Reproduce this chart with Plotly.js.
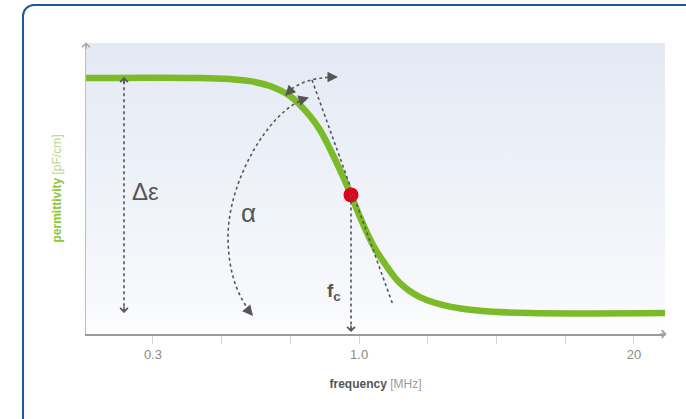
<!DOCTYPE html>
<html>
<head>
<meta charset="utf-8">
<script src="https://cdn.plot.ly/plotly-3.0.1.min.js"></script>
<style>
  html, body { margin: 0; padding: 0; background: #ffffff; overflow: hidden; }
  #frame { position: absolute; left: 22px; top: 4px; width: 720px; height: 480px;
           border: 2px solid #1d5a97; border-radius: 12px; box-sizing: border-box; }
  #chart { position: absolute; left: 0; top: 0; width: 686px; height: 419px; }
</style>
</head>
<body>
<div id="frame"></div>
<div id="chart"></div>
<script>
// ---- data ----
const tickPositions = [0, 1, 2, 3, 4, 5, 6, 7];
const tickLabels = ['0.3', '', '', '1.0', '', '', '', '20'];
// curve: position along the frequency scale (tick index units) and permittivity (arbitrary units)
const freqPos = [-0.975, 0.684, 1.121, 1.412, 1.703, 1.994, 2.140, 2.285, 2.431, 2.576, 2.722, 2.882, 3.013, 3.202, 3.377, 3.595, 3.886, 4.323, 4.759, 5.487, 7.452];
const permittivity = [8.80, 8.80, 8.76, 8.69, 8.52, 8.18, 7.87, 7.49, 7.01, 6.36, 5.64, 4.78, 4.02, 3.06, 2.41, 1.75, 1.27, 0.94, 0.80, 0.72, 0.72];
// critical frequency point
const fcPos = [2.882];
const fcPerm = [4.78];
// levels
const epsHigh = 8.93;
const epsLow = 0.65;

const xRange = [-0.975, 7.452];
const yRange = [0, 10];

const gray = '#565656';
const green = '#7dba2a';
const font = 'Liberation Sans, Arial, sans-serif';

const traces = [
  { // gradient background of the plotting area
    x: [xRange[0], xRange[1], xRange[1], xRange[0]],
    y: [yRange[0], yRange[0], yRange[1], yRange[1]],
    mode: 'none', fill: 'toself', hoverinfo: 'skip',
    fillgradient: { type: 'vertical', start: yRange[0], stop: yRange[1],
      colorscale: [[0, '#ffffff'], [0.1, '#f8f9fc'], [1, '#e3e9f4']] }
  },
  {
    x: freqPos, y: permittivity, mode: 'lines',
    line: { color: green, width: 6.5, shape: 'spline', smoothing: 1 },
    hoverinfo: 'skip'
  },
  {
    x: fcPos, y: fcPerm, mode: 'markers',
    marker: { color: '#e2001a', size: 15 },
    hoverinfo: 'skip'
  }
];

const dotLine = { color: gray, width: 1.6, dash: 'dot' };
const shapes = [
  { type: 'line', x0: xRange[0], x1: xRange[1], y0: epsHigh, y1: epsHigh, line: { color: '#d4dbe7', width: 1, dash: 'dash' }, layer: 'below' },
  { type: 'line', x0: xRange[0], x1: xRange[1], y0: epsLow, y1: epsLow, line: { color: '#d4dbe7', width: 1, dash: 'dash' }, layer: 'below' },
  // delta epsilon arrow
  { type: 'line', x0: -0.422, x1: -0.422, y0: 0.75, y1: 8.78, line: dotLine },
  // fc drop line
  { type: 'line', x0: fcPos[0], x1: fcPos[0], y0: 0.12, y1: fcPerm[0], line: dotLine },
  // tangent
  { type: 'line', x0: 2.314, y0: 8.729, x1: 3.493, y1: 0.997, line: dotLine },
  // alpha arc
  { type: 'path', path: 'M2.212,8.076 C1.703,7.698 1.092,5.292 1.092,3.333 C1.092,2.027 1.266,1.168 1.441,0.687', line: dotLine },
  // small arc at top
  { type: 'path', path: 'M1.951,8.282 Q2.169,8.797 2.635,8.832', line: dotLine }
];

function head(x, y, ax, ay, style, size, color, ref) {
  return { x: x, y: y, ax: ax, ay: ay, xref: ref || 'x', yref: ref || 'y', text: '',
           showarrow: true, arrowhead: style, arrowsize: size, arrowwidth: 1.5,
           arrowcolor: color, standoff: 0 };
}
function label(x, y, text, size) {
  return { x: x, y: y, text: text, showarrow: false, font: { family: font, size: size, color: gray } };
}

const annotations = [
  head(-0.422, 8.83, 0, 8, 4, 1, gray),
  head(-0.422, 0.72, 0, -8, 4, 1, gray),
  head(fcPos[0], 0.07, 0, -8, 4, 1, gray),
  head(2.27, 8.127, -8, 2.5, 2, 1.4, gray),
  head(1.455, 0.62, -5, -6, 2, 1.4, gray),
  head(1.921, 8.179, 5.6, -5.6, 2, 1.4, gray),
  head(2.693, 8.832, -8, 0, 2, 1.4, gray),
  head(0, 1.003, 0, 8, 4, 1, '#a8a8a8', 'paper'),
  head(1.003, 0, -8, 0, 4, 1, '#a0a0a0', 'paper'),
  label(-0.116, 4.914, 'Δε', 24),
  label(1.397, 4.158, 'α', 26),
  label(2.634, 1.443, '<b>f<sub>c</sub></b>', 19)
];

const layout = {
  width: 686, height: 419,
  margin: { l: 86, r: 21, t: 43, b: 85 },
  paper_bgcolor: 'rgba(0,0,0,0)',
  plot_bgcolor: 'rgba(0,0,0,0)',
  showlegend: false,
  hovermode: false,
  font: { family: font },
  xaxis: {
    range: xRange, showgrid: false, zeroline: false,
    tickvals: tickPositions, ticktext: tickLabels,
    ticks: 'outside', ticklen: 8, tickcolor: '#d2d2d2', tickwidth: 1,
    tickfont: { family: font, size: 13, color: '#8a8a8a' },
    showline: true, linecolor: '#9a9a9a', linewidth: 1.5,
    title: { text: '<b>frequency</b> <span style="color:#9c9c9c">[MHz]</span>',
             font: { family: font, size: 12, color: '#555555' }, standoff: 18 }
  },
  yaxis: {
    range: yRange, showgrid: false, zeroline: false, showticklabels: false, ticks: '',
    showline: true, linecolor: '#bdbdbd', linewidth: 1.5,
    title: { text: '<b>permittivity</b> <span style="color:#b3d88a">[pF/cm]</span>',
             font: { family: font, size: 12, color: '#8cc63f' }, standoff: 20 }
  },
  shapes: shapes,
  annotations: annotations
};

Plotly.newPlot('chart', traces, layout, { displayModeBar: false, staticPlot: true });
</script>
</body>
</html>
